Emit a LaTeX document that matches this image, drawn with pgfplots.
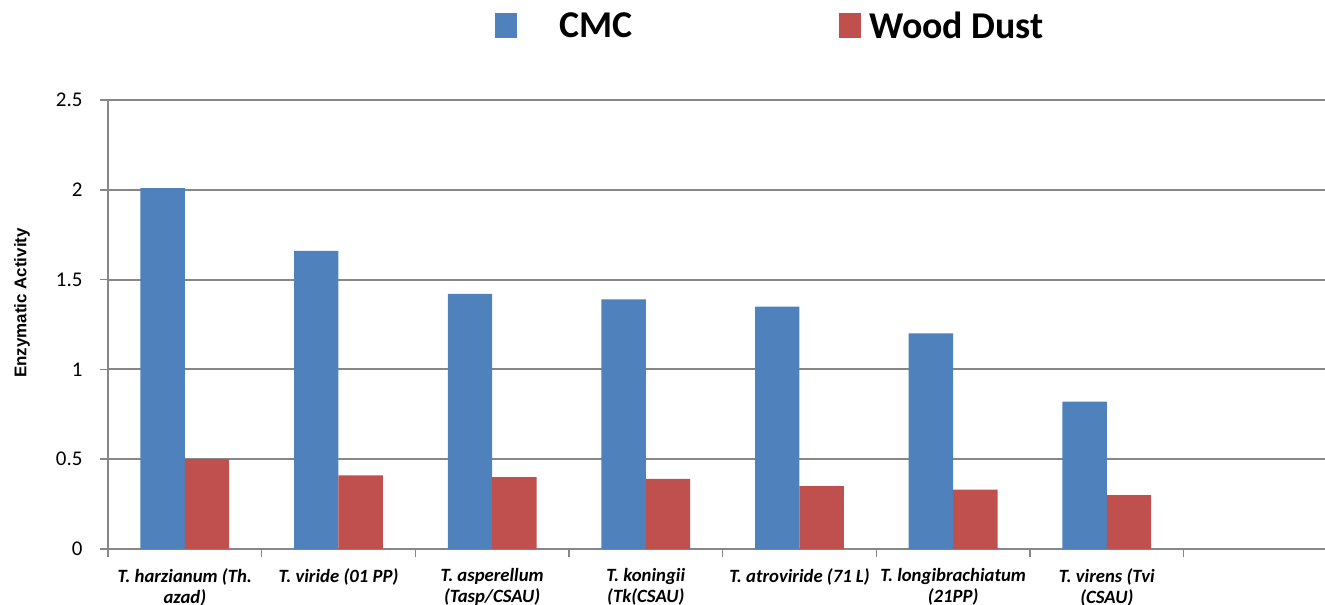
\documentclass[border=0pt]{standalone}
\usepackage{pgfplots}
\pgfplotsset{compat=1.18}
\usepackage{fontspec}
\setmainfont{Carlito}
\newfontfamily\arialfont{Liberation Sans}
\usetikzlibrary{calc}

\definecolor{cmcblue}{HTML}{4F81BD}
\definecolor{dustred}{HTML}{C0504D}
\definecolor{gridgray}{HTML}{878787}

\begin{document}
\begin{tikzpicture}
\begin{axis}[
    name=ax,
    scale only axis,
    width=1217bp, height=449bp,
    xmin=-0.5, xmax=7.42,
    ymin=0, ymax=2.5,
    ytick={0,0.5,1,1.5,2,2.5},
    ymajorgrids,
    grid style={gridgray, line width=2bp},
    axis x line*=bottom, axis y line*=left,
    x axis line style={-}, y axis line style={-},
    axis line style={gridgray, line width=2bp},
    tick style={gridgray, line width=1.5bp},
    tick align=outside,
    major tick length=8bp,
    minor tick length=8bp,
    xtick={0,...,6},
    minor xtick={-0.5,0.5,...,6.5},
    major x tick style={draw=none},
    xticklabels={
        {T. harzianum (Th.\\azad)},
        {T. viride (01 PP)},
        {T. asperellum\\(Tasp/CSAU)},
        {T. koningii\\(Tk(CSAU)},
        {T. atroviride (71 L)},
        {T. longibrachiatum\\(21PP)},
        {T. virens (Tvi\\(CSAU)}},
    xticklabel style={font=\fontsize{18.8}{21}\selectfont\bfseries\itshape,
        align=center, yshift=-8bp},
    yticklabel style={font=\fontsize{21}{23}\selectfont, anchor=east},
    yticklabel={\pgfmathprintnumber{\tick}},
    yticklabel shift=14bp,
    /pgf/number format/assume math mode=true,
    ylabel={Enzymatic Activity},
    ylabel style={font=\arialfont\bfseries\fontsize{17}{19}\selectfont,
        at={(axis description cs:-0.0707,0.548)}, anchor=center},
    ybar=0pt,
    bar width=0.289,
    legend columns=2,
    legend style={draw=none, fill=none, inner sep=0pt,
        at={(rel axis cs:0.318,1.165)}, anchor=west,
        font=\fontsize{38}{42}\selectfont\bfseries,
        /tikz/every even column/.append style={column sep=0pt}},
    legend image code/.code={\fill[#1] (0bp,-12.5bp) rectangle (22bp,12.5bp);},
]
\addplot[fill=cmcblue, draw=none] coordinates {
    (0,2.01) (1,1.66) (2,1.42) (3,1.39) (4,1.35) (5,1.20) (6,0.82)
};
\addlegendentry{\hspace*{40bp}CMC\hspace*{205bp}}
\addplot[fill=dustred, draw=none] coordinates {
    (0,0.50) (1,0.41) (2,0.40) (3,0.39) (4,0.35) (5,0.33) (6,0.30)
};
\addlegendentry{\hspace*{6bp}Wood Dust}
\end{axis}
\pgfresetboundingbox
\path ($(ax.south west)+(-108bp,-55bp)$) rectangle ($(ax.north east)+(0,100bp)$);
\end{tikzpicture}
\end{document}
